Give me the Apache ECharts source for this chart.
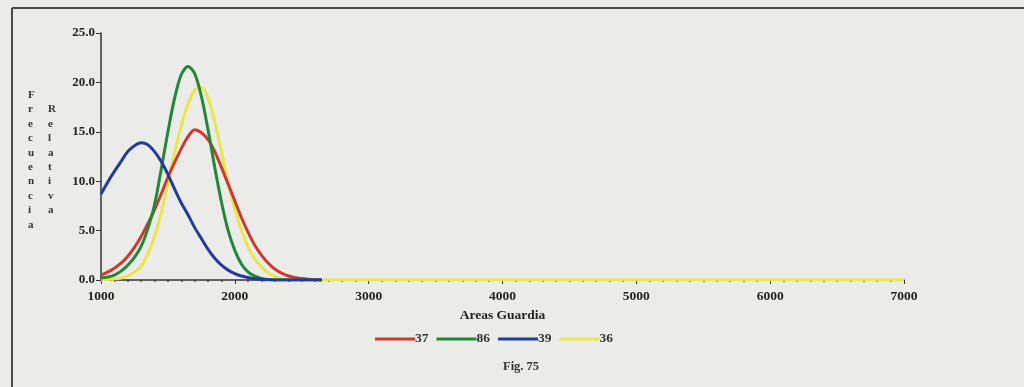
<!DOCTYPE html>
<html>
<head>
<meta charset="utf-8">
<script src="https://cdn.jsdelivr.net/npm/echarts@6/dist/echarts.min.js"></script>
<style>
html,body{margin:0;padding:0;background:#ebebea;}
#c{width:1024px;height:387px;}
</style>
</head>
<body>
<div id="c"></div>
<script>
// ---- data ----
var seriesNames = ['37', '86', '39', '36'];

var xGrid = [1000,1050,1100,1150,1200,1250,1300,1350,1400,1450,1500,1550,1600,1650,1700,1750,1800,1850,1900,1950,2000,2050,2100,2150,2200,2250,2300,2350,2400,2450,2500,2550,2600,2650];

var y37 = [0.5,0.8,1.2,1.7,2.4,3.3,4.4,5.7,7.1,8.7,10.4,11.9,13.3,14.5,15.2,14.9,14.2,13.0,11.4,9.7,8.0,6.3,4.8,3.5,2.5,1.7,1.1,0.7,0.4,0.25,0.15,0.08,0.03,0];
var y86 = [0.2,0.3,0.5,0.9,1.5,2.3,3.4,5.2,7.6,11.2,15.0,18.4,20.8,21.6,20.9,18.6,15.2,11.4,7.9,5.0,3.0,1.6,0.8,0.4,0.15,0.05,0,0,0,0,0,0,0,0];
var y39 = [8.7,9.9,11.0,12.0,13.0,13.6,13.9,13.7,13.0,12.0,10.7,9.2,7.8,6.6,5.3,4.2,3.1,2.2,1.5,1.0,0.65,0.4,0.25,0.12,0.06,0.02,0,0,0,0,0,0,0,0];
var y36 = [0,0.05,0.1,0.2,0.4,0.8,1.4,2.6,4.4,6.8,9.8,12.9,15.6,17.8,19.2,19.5,18.4,16.0,13.0,9.8,7.2,5.0,3.3,2.1,1.3,0.7,0.35,0.15,0.05,0,0,0,0,0];
// yellow series continues flat along the axis to the end
var x36Tail = [7000];
var y36Tail = [0];

var xTicks = [1000,2000,3000,4000,5000,6000,7000];
var yTicks = [0,5,10,15,20,25];

var colors = ['#cc3a2c', '#23873a', '#203c98', '#ebe54a'];

function pairs(xs, ys){ return xs.map(function(x,i){ return [x, ys[i]]; }); }
var allX = [xGrid, xGrid, xGrid, xGrid.concat(x36Tail)];
var allY = [y37, y86, y39, y36.concat(y36Tail)];

var serif = "'Liberation Serif', 'DejaVu Serif', serif";

var chart = echarts.init(document.getElementById('c'), null, {renderer:'canvas'});
chart.setOption({
  animation: false,
  backgroundColor: '#ebebea',
  color: colors,
  grid: {left: 101, right: 120, top: 33, bottom: 107, containLabel: false},
  xAxis: {
    type: 'value',
    min: xTicks[0], max: xTicks[xTicks.length-1], interval: 1000,
    name: 'Areas Guardia', nameLocation: 'middle', nameGap: 28,
    nameTextStyle: {fontFamily: serif, fontSize: 13.5, fontWeight: 'bold', color: '#222'},
    axisLine: {lineStyle: {color: '#333', width: 1.5}},
    axisTick: {show: true, length: 4, lineStyle: {color: '#333'}},
    minorTick: {show: true, splitNumber: 10, length: 2, lineStyle: {color: '#444', width: 1.5}},
    splitLine: {show: false},
    axisLabel: {fontFamily: serif, fontSize: 13.5, fontWeight: 'bold', color: '#222', margin: 10,
      formatter: function(v){ return String(v); }}
  },
  yAxis: {
    type: 'value',
    min: yTicks[0], max: yTicks[yTicks.length-1], interval: 5,
    axisLine: {show: true, lineStyle: {color: '#333', width: 1.5}},
    axisTick: {show: true, length: 5, lineStyle: {color: '#333'}},
    splitLine: {show: false},
    axisLabel: {fontFamily: serif, fontSize: 13, fontWeight: 'bold', color: '#222', margin: 6,
      formatter: function(v){ return v.toFixed(1); }}
  },
  legend: {
    data: seriesNames,
    left: 370, top: 327,
    icon: 'rect', itemWidth: 40, itemHeight: 3, itemGap: 8,
    textStyle: {fontFamily: serif, fontSize: 13.5, fontWeight: 'bold', color: '#333', padding: [0,0,0,-5]}
  },
  graphic: [
    {type: 'line', shape: {x1: 12, y1: 8, x2: 1024, y2: 8}, style: {stroke: '#4a4a4a', lineWidth: 2}},
    {type: 'line', shape: {x1: 12, y1: 8, x2: 12, y2: 387}, style: {stroke: '#4a4a4a', lineWidth: 2}},
    {type: 'text', left: 28, top: 88, style: {text: 'F\nr\ne\nc\nu\ne\nn\nc\ni\na', fontFamily: serif, fontSize: 11, fontWeight: 'bold', lineHeight: 14.4, fill: '#333', align: 'center'}},
    {type: 'text', left: 48, top: 102.4, style: {text: 'R\ne\nl\na\nt\ni\nv\na', fontFamily: serif, fontSize: 11, fontWeight: 'bold', lineHeight: 14.4, fill: '#333', align: 'center'}},
    {type: 'text', left: 503, top: 360, style: {text: 'Fig. 75', fontFamily: serif, fontSize: 12.5, fontWeight: 'bold', fill: '#333'}}
  ],
  series: seriesNames.map(function(n, i){
    return {
      name: n, type: 'line', smooth: 0.3, showSymbol: false,
      data: pairs(allX[i], allY[i]),
      lineStyle: {width: 3, color: colors[i]},
      z: i === 3 ? 2 : 3
    };
  })
});
</script>
</body>
</html>
